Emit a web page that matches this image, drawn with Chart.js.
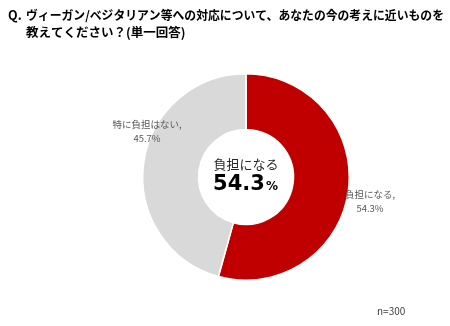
<!DOCTYPE html>
<html>
<head>
<meta charset="utf-8">
<script src="https://cdn.jsdelivr.net/npm/chart.js@4"></script>
<style>
  html, body { margin: 0; padding: 0; background: #fff; }
</style>
</head>
<body>
<canvas id="chart1" width="450" height="326"></canvas>
<script>
const titleLines = ['ヴィーガン/ベジタリアン等への対応について、あなたの今の考えに近いものを', '教えてください？(単一回答)'];
const categories = ['負担になる', '特に負担はない'];
const shares = [54.3, 45.7];
const colors = ['#C00000', '#D9D9D9'];
const sampleNote = 'n=300';

const JP = '"Noto Sans CJK JP", "Noto Sans", sans-serif';

// where each outside label sits, relative to the doughnut centre
const labelOffsets = [[124, 23], [-99, -47]];

const decorations = {
    id: 'decorations',
    afterDraw(chart) {
        const ctx = chart.ctx;
        const arcs = chart.getDatasetMeta(0).data;
        const cx = arcs[0].x, cy = arcs[0].y;
        ctx.save();

        // question title
        ctx.fillStyle = '#000';
        ctx.textBaseline = 'middle';
        ctx.textAlign = 'left';
        ctx.font = 'bold 12.5px ' + JP;
        ctx.fillText('Q.', 8, 15);
        ctx.fillText(titleLines[0], 26, 15, 418);
        ctx.fillText(titleLines[1], 26, 32);

        // outside labels
        ctx.fillStyle = '#595959';
        ctx.textAlign = 'center';
        ctx.font = '9.5px ' + JP;
        categories.forEach(function(c, i) {
            const x = cx + labelOffsets[i][0];
            const y = cy + labelOffsets[i][1];
            ctx.fillText(c + ',', x, y - 6);
            ctx.fillText(shares[i].toFixed(1) + '%', x, y + 8);
        });

        // centre text
        ctx.fillStyle = '#262626';
        ctx.font = '13px ' + JP;
        ctx.fillText(categories[0], cx, cy - 13);
        ctx.font = 'bold 21px "DejaVu Sans", sans-serif';
        const num = shares[0].toFixed(1);
        const pct = '%';
        const w1 = ctx.measureText(num).width;
        ctx.font = 'bold 12px "DejaVu Sans", sans-serif';
        const w2 = ctx.measureText(pct).width;
        const x0 = cx - (w1 + w2) / 2 - 1;
        ctx.textAlign = 'left';
        ctx.textBaseline = 'alphabetic';
        ctx.font = 'bold 21px "DejaVu Sans", sans-serif';
        ctx.fillStyle = '#000';
        ctx.fillText(num, x0, cy + 13);
        ctx.font = 'bold 12px "DejaVu Sans", sans-serif';
        ctx.fillText(pct, x0 + w1 + 1, cy + 13);

        // sample size
        ctx.fillStyle = '#404040';
        ctx.font = '10px ' + JP;
        ctx.textBaseline = 'middle';
        ctx.fillText(sampleNote, 377, 311);
        ctx.restore();
    }
};

var ctx = document.getElementById('chart1').getContext('2d');
var chart = new Chart(ctx, {
    type: 'doughnut',
    data: {
        labels: categories,
        datasets: [{
            data: shares,
            backgroundColor: colors,
            borderColor: '#fff',
            borderWidth: 1.5
        }]
    },
    options: {
        responsive: false,
        animation: false,
        cutout: '46%',
        layout: { padding: { top: 73, bottom: 45, left: 142, right: 100 } },
        plugins: {
            legend: { display: false },
            tooltip: { enabled: false },
            title: { display: false }
        }
    },
    plugins: [decorations]
});
</script>
</body>
</html>
